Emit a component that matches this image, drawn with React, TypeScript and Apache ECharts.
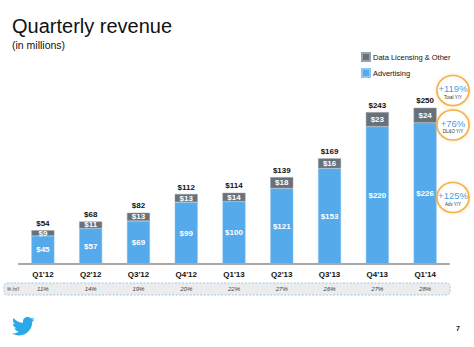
import React, { useEffect, useRef } from "react";
import * as echarts from "echarts";

const quarters = ["Q1'12", "Q2'12", "Q3'12", "Q4'12", "Q1'13", "Q2'13", "Q3'13", "Q4'13", "Q1'14"];
const advertising = [45, 57, 69, 99, 100, 121, 153, 220, 226];
const dataLicensing = [9, 11, 13, 13, 14, 18, 16, 23, 24];
const totals = [54, 68, 82, 112, 114, 139, 169, 243, 250];
const intlPct = ["11%", "14%", "19%", "20%", "22%", "27%", "26%", "27%", "28%"];
const growth = [
  { value: "+119%", label: "Total Y/Y" },
  { value: "+76%", label: "DL&O Y/Y" },
  { value: "+125%", label: "Adv Y/Y" },
];

const BIRD =
  "M459.37 151.716c.325 4.548.325 9.097.325 13.645 0 138.72-105.583 298.558-298.558 298.558-59.452 0-114.68-17.219-161.137-47.106 8.447.974 16.568 1.299 25.34 1.299 49.055 0 94.213-16.568 130.274-44.832-46.132-.975-84.792-31.188-98.112-72.772 6.498.974 12.995 1.624 19.818 1.624 9.421 0 18.843-1.3 27.614-3.573-48.081-9.747-84.143-51.98-84.143-102.985v-1.299c13.969 7.797 30.214 12.67 47.431 13.319-28.264-18.843-46.781-51.005-46.781-87.391 0-19.492 5.197-37.36 14.294-52.954 51.655 63.675 129.3 105.258 216.365 109.807-1.624-7.797-2.599-15.918-2.599-24.04 0-57.828 46.782-104.934 104.934-104.934 30.213 0 57.502 12.67 76.67 33.137 23.715-4.548 46.456-13.32 66.599-25.34-7.798 24.366-24.366 44.833-46.132 57.827 21.117-2.273 41.584-8.122 60.426-16.243-14.292 20.791-32.161 39.308-52.628 54.253z";

let registered = false;

const FONT = "'Liberation Sans', Arial, Helvetica, sans-serif";
const BLUE = "#55aaec";
const GRAY = "#68717a";

export default function App() {
  const ref = useRef<HTMLDivElement>(null);
  useEffect(() => {
    if (!registered) {
      echarts.graphic.registerShape("bird", echarts.graphic.extendPath(BIRD, {}));
      registered = true;
    }
    const chart = echarts.init(ref.current!, null, { renderer: "svg" });
    const circleCenters = [
      [453, 90.5],
      [453, 125],
      [453, 197.5],
    ];
    const circles: any[] = [];
    growth.forEach((g, i) => {
      const [cx, cy] = circleCenters[i];
      circles.push({
        type: "ellipse",
        shape: { cx, cy, rx: 16, ry: 15 },
        style: { fill: "#fff", stroke: "#f5b04a", lineWidth: 1.6, shadowBlur: 3, shadowColor: "rgba(245,176,74,0.5)" },
        z: 10,
      });
      circles.push({
        type: "text",
        x: cx,
        y: cy - 2,
        style: { text: g.value, fill: "#4f9de0", font: `9.5px ${FONT}`, align: "center", verticalAlign: "middle" },
        z: 11,
      });
      circles.push({
        type: "text",
        x: cx,
        y: cy + 6.5,
        style: { text: g.label, fill: "#333", font: `4.5px ${FONT}`, align: "center", verticalAlign: "middle" },
        z: 11,
      });
    });
    chart.setOption({
      animation: false,
      backgroundColor: "#fff",
      title: {
        text: "Quarterly revenue",
        subtext: "(in millions)",
        left: 12,
        top: 16,
        itemGap: 3,
        padding: 0,
        textStyle: { fontFamily: FONT, fontSize: 20, fontWeight: "normal", color: "#111" },
        subtextStyle: { fontFamily: FONT, fontSize: 10.5, color: "#111" },
      },
      legend: {
        orient: "vertical",
        left: 356,
        top: 47,
        itemWidth: 8,
        itemHeight: 8,
        itemGap: 6,
        icon: "rect",
        data: ["Data Licensing & Other", "Advertising"],
        textStyle: { fontFamily: FONT, fontSize: 7.5, color: "#111", padding: [0, 0, 0, -2] },
      },
      grid: { left: 19, right: 25, top: 76.5, bottom: 83 },
      xAxis: [
        {
          type: "category",
          data: quarters,
          axisLine: { lineStyle: { color: "#a6a6a6", width: 2 } },
          axisTick: { show: false },
          axisLabel: { fontFamily: FONT, fontSize: 8, fontWeight: "bold", color: "#111", margin: 6 },
        },
        {
          type: "category",
          data: intlPct,
          position: "bottom",
          offset: 20,
          axisLine: { show: false },
          axisTick: { show: false },
          axisLabel: { fontFamily: FONT, fontSize: 6, fontStyle: "italic", color: "#444", margin: 2 },
        },
      ],
      yAxis: { type: "value", min: 0, max: 300, show: false, splitLine: { show: false } },
      series: [
        {
          name: "Advertising",
          type: "bar",
          stack: "rev",
          barWidth: 23,
          data: advertising,
          itemStyle: { color: BLUE, borderColor: "#8cc6f2", borderWidth: 0.5 },
          label: {
            show: true,
            position: "inside",
            formatter: (p: any) => "$" + p.value,
            fontFamily: FONT,
            fontSize: 8,
            fontWeight: "bold",
            color: "#fff",
          },
        },
        {
          name: "Data Licensing & Other",
          type: "bar",
          stack: "rev",
          barWidth: 23,
          data: dataLicensing,
          itemStyle: { color: GRAY, borderColor: "#9aa1a8", borderWidth: 0.5 },
          label: {
            show: true,
            position: "inside",
            formatter: (p: any) => "$" + p.value,
            fontFamily: FONT,
            fontSize: 8,
            fontWeight: "bold",
            color: "#fff",
          },
        },
        {
          name: "Total",
          type: "bar",
          stack: "rev",
          barWidth: 23,
          data: totals.map(() => 0),
          itemStyle: { color: "transparent" },
          label: {
            show: true,
            position: "top",
            distance: 3,
            formatter: (p: any) => "$" + totals[p.dataIndex],
            fontFamily: FONT,
            fontSize: 8,
            fontWeight: "bold",
            color: "#111",
          },
        },
      ],
      graphic: [
        {
          type: "rect",
          shape: { x: 4, y: 283, width: 446, height: 12, r: 3 },
          style: { fill: "#ececec", stroke: "#9cc8ec", lineWidth: 1, lineDash: [2, 1.5] },
          z: -1,
        },
        {
          type: "text",
          x: 7,
          y: 289,
          style: { text: "% Int'l", fill: "#444", font: `italic 4.5px ${FONT}`, verticalAlign: "middle" },
        },
        ...circles,
        {
          type: "bird",
          x: 12,
          y: 315,
          scaleX: 0.044,
          scaleY: 0.044,
          style: { fill: "#29a9e8" },
        },
        {
          type: "text",
          x: 456,
          y: 328,
          style: { text: "7", fill: "#222", font: `bold 7px ${FONT}`, verticalAlign: "middle" },
        },
      ],
    });
    return () => chart.dispose();
  }, []);
  return <div ref={ref} style={{ position: "fixed", left: 0, top: 0, width: 474, height: 347 }} />;
}
